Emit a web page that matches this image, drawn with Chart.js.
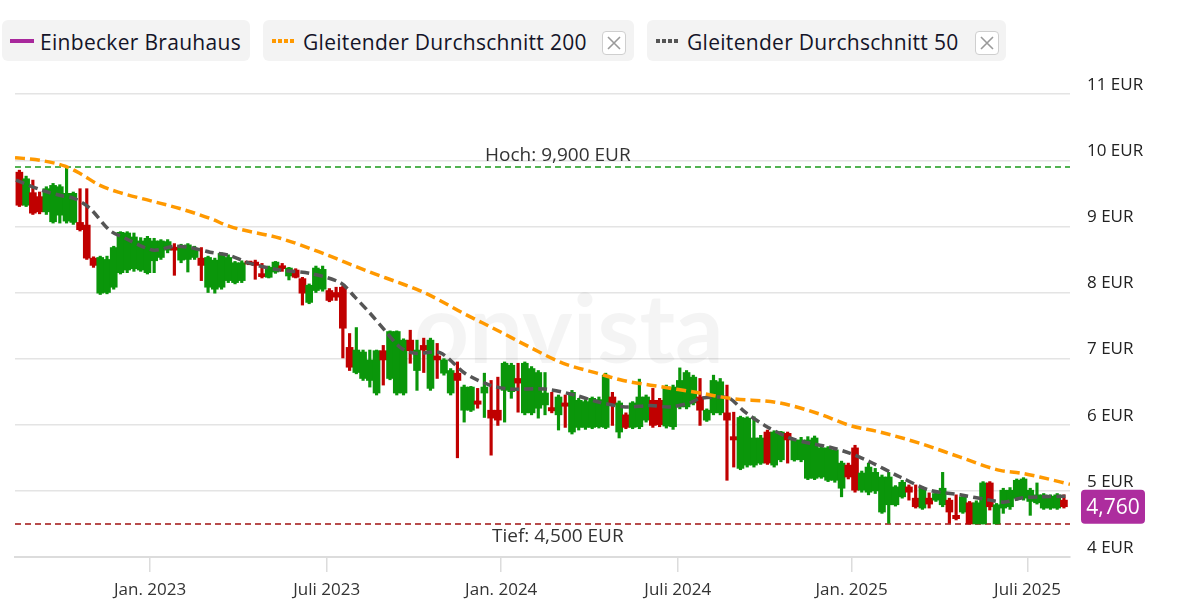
<!DOCTYPE html>
<html><head><meta charset="utf-8">
<script src="https://cdn.jsdelivr.net/npm/chart.js@4.4.1/dist/chart.umd.min.js"></script>
<style>
html,body{margin:0;padding:0;background:#fff;width:1179px;height:603px;overflow:hidden;font-family:"Open Sans",sans-serif;}
#wrap{position:relative;width:1179px;height:603px;}
canvas{position:absolute;left:0;top:0;}
.lg{position:absolute;top:20px;height:41px;padding-top:3px;background:#f3f3f3;border-radius:6px;display:flex;align-items:center;font-size:21px;letter-spacing:0.3px;color:#141428;box-sizing:border-box;white-space:nowrap;}
.mk{display:inline-block;width:24px;height:4px;margin-right:6px;margin-top:-3px;}
.x{position:absolute;top:11px;width:24px;height:24px;border:1px solid #cfcfcf;border-radius:4px;background:#fff;box-sizing:border-box;}
.x svg{position:absolute;left:4px;top:4px;}
</style></head>
<body><div id="wrap">
<canvas id="c" width="1179" height="603"></canvas>
<div class="lg" style="left:2px;width:248px;padding-left:8px;"><span class="mk" style="background:#a8289c"></span><span id="n0"></span></div>
<div class="lg" style="left:263px;width:371px;padding-left:9px;"><span class="mk" style="background:repeating-linear-gradient(90deg,#ff9900 0 4px,transparent 4px 6px);width:22px;margin-right:9px"></span><span id="n1"></span><span class="x" style="left:339px"><svg width="14" height="14"><path d="M1 1L13 13M13 1L1 13" stroke="#9a9a9a" stroke-width="1.6"/></svg></span></div>
<div class="lg" style="left:647px;width:359px;padding-left:9px;"><span class="mk" style="background:repeating-linear-gradient(90deg,#555 0 4px,transparent 4px 6px);width:22px;margin-right:9px"></span><span id="n2"></span><span class="x" style="left:328px"><svg width="14" height="14"><path d="M1 1L13 13M13 1L1 13" stroke="#9a9a9a" stroke-width="1.6"/></svg></span></div>
</div>
<script>
// ---- data ----
const seriesNames = ["Einbecker Brauhaus", "Gleitender Durchschnitt 200", "Gleitender Durchschnitt 50"];
const xTickPos = [19.4, 45.6, 71.5, 97.7, 123.5, 149.6];
const xTickLabels = ["Jan. 2023", "Juli 2023", "Jan. 2024", "Juli 2024", "Jan. 2025", "Juli 2025"];
const yTicks = [4, 5, 6, 7, 8, 9, 10, 11];
const open = [9.82,9.32,9.51,9.45,9.22,9.07,9.17,9.08,9.06,9.06,9.02,8.52,7.99,8.00,8.08,8.30,8.34,8.36,8.34,8.30,8.48,8.53,8.64,8.68,8.49,8.50,8.53,8.52,8.08,8.05,8.08,8.18,8.15,8.18,8.46,8.46,8.27,8.23,8.31,8.40,8.25,8.34,8.21,7.85,8.03,8.05,8.03,8.00,8.08,7.17,6.79,6.70,6.67,6.48,7.12,6.70,6.48,6.48,7.28,6.82,7.20,6.55,7.04,6.78,6.48,6.78,6.22,6.22,6.36,6.48,6.22,6.22,6.52,6.50,6.70,6.18,6.18,6.25,6.30,6.26,6.15,6.33,5.89,5.96,5.96,5.96,5.97,5.96,6.42,5.89,6.15,5.96,5.97,6.07,6.37,6.37,5.98,5.97,6.27,6.27,6.33,6.42,6.07,6.18,6.18,6.18,5.82,5.34,5.39,5.39,5.42,5.89,5.39,5.47,5.87,5.47,5.47,5.19,5.19,5.21,5.16,5.16,5.04,5.39,5.65,5.01,4.98,5.00,4.68,4.79,4.79,4.91,5.06,4.89,4.74,4.89,4.86,4.79,4.86,4.63,4.68,4.82,4.50,4.50,5.12,4.50,4.74,4.76,4.89,4.89,4.84,4.82,4.74,4.74,4.74,4.86];
const high = [9.85,9.76,9.70,9.52,9.60,9.65,9.63,9.89,9.52,9.57,9.57,8.54,8.55,8.55,8.70,8.92,8.92,8.90,8.83,8.85,8.82,8.80,8.80,8.74,8.73,8.74,8.70,8.68,8.55,8.52,8.60,8.57,8.47,8.48,8.47,8.49,8.44,8.40,8.47,8.44,8.38,8.36,8.23,8.13,8.40,8.40,8.06,8.08,8.10,7.38,7.47,7.13,7.13,7.13,7.20,7.42,7.42,7.30,7.43,7.28,7.31,7.31,7.23,7.00,6.85,6.95,6.60,6.58,6.55,6.78,6.67,6.72,6.95,6.93,6.93,6.95,6.88,6.82,6.79,6.49,6.45,6.45,6.52,6.40,6.38,6.42,6.42,6.78,6.49,6.36,6.18,6.35,6.69,6.45,6.55,6.40,6.60,6.60,6.86,6.82,6.75,6.70,6.24,6.75,6.70,6.60,6.19,6.13,6.12,6.12,5.84,5.92,5.91,5.90,5.89,5.79,5.81,5.82,5.83,5.68,5.67,5.65,5.45,5.42,5.69,5.30,5.42,5.34,5.24,5.28,5.08,5.16,5.09,5.09,5.06,4.97,5.00,5.28,4.89,4.94,4.93,4.84,4.85,5.14,5.14,4.81,5.04,5.05,5.18,5.20,5.04,5.12,4.96,4.94,4.96,4.94];
const low = [9.30,9.30,9.18,9.19,9.18,9.05,9.05,9.05,9.03,8.93,8.50,8.38,7.97,7.98,8.05,8.28,8.30,8.32,8.32,8.28,8.30,8.50,8.60,8.26,8.45,8.31,8.50,8.18,8.00,7.99,8.05,8.15,8.13,8.15,8.42,8.20,8.22,8.22,8.29,8.32,8.19,8.22,7.81,7.83,8.00,8.02,7.86,7.88,7.01,6.82,6.77,6.67,6.57,6.45,6.60,6.68,6.45,6.45,6.93,6.52,6.79,6.52,6.70,6.75,6.45,5.50,6.04,6.20,6.25,6.11,5.54,5.99,6.04,6.40,6.19,6.15,6.15,6.10,6.15,6.18,5.92,5.96,5.86,5.92,5.93,5.94,5.95,5.94,5.99,5.80,5.94,5.94,5.94,6.04,5.96,5.97,5.95,5.93,6.24,6.24,6.30,5.99,6.05,6.15,6.15,5.16,5.36,5.32,5.36,5.36,5.40,5.40,5.36,5.44,5.42,5.45,5.44,5.17,5.17,5.19,5.14,5.13,4.91,5.18,4.98,4.98,4.94,4.96,4.66,4.51,4.77,4.89,4.86,4.74,4.72,4.74,4.84,4.76,4.51,4.56,4.66,4.50,4.50,4.50,4.71,4.50,4.66,4.72,4.86,4.86,4.63,4.80,4.72,4.72,4.72,4.74];
const close = [9.32,9.72,9.20,9.22,9.57,9.62,9.60,9.50,9.50,8.95,8.52,8.41,8.53,8.50,8.68,8.91,8.90,8.84,8.78,8.82,8.78,8.78,8.77,8.64,8.71,8.72,8.66,8.41,8.53,8.49,8.59,8.53,8.45,8.45,8.43,8.41,8.24,8.38,8.46,8.36,8.37,8.23,7.99,8.11,8.37,8.35,7.88,7.93,7.46,6.87,7.13,7.10,6.98,7.12,6.98,7.41,7.41,7.28,7.12,7.13,7.13,7.28,6.98,6.98,6.82,6.67,6.57,6.57,6.31,6.57,6.10,6.07,6.93,6.90,6.63,6.93,6.85,6.79,6.48,6.21,6.42,6.28,6.49,6.37,6.35,6.40,6.38,6.75,6.30,6.33,5.96,6.33,6.42,6.42,5.99,6.00,6.57,6.57,6.67,6.79,6.72,6.22,6.22,6.67,6.65,6.07,5.77,6.11,6.10,5.80,5.80,5.42,5.89,5.89,5.77,5.77,5.77,5.77,5.80,5.65,5.65,5.62,5.42,5.21,5.01,5.27,5.36,5.28,5.21,5.21,5.06,5.13,4.98,4.76,5.04,4.80,4.96,5.04,4.68,4.58,4.91,4.50,4.82,5.12,4.76,4.79,5.01,5.01,5.16,5.18,5.01,4.94,4.94,4.92,4.94,4.76];
const ma200X = [-0.65,3.06,6.77,9.0,11.96,14.93,19.38,23.8,28.3,31.2,38.7,44.6,48.3,52.0,56.0,59.4,62.4,65.8,70.9,75.8,80.7,85.7,89.6,95.5,101,105.4,112.8,118.8,123.2,127.7,133.6,139.6,145.5,148.5,151.4,155.9];
const ma200Y = [10.04,10.0,9.91,9.80,9.62,9.51,9.39,9.27,9.12,9.00,8.82,8.61,8.46,8.31,8.16,8.03,7.88,7.69,7.43,7.17,6.93,6.78,6.67,6.57,6.48,6.40,6.33,6.16,5.99,5.89,5.72,5.51,5.31,5.27,5.21,5.10];
const ma50X = [-0.5,3.5,6.0,8.2,10.5,13.4,15.7,18.6,20.1,23.1,25.3,28.3,31.2,34.2,38.7,43.1,47.6,49.8,52.0,54.2,56.5,58.7,62.4,66.1,69.8,72.8,78.0,82.4,86.1,89.9,93.6,96.5,99.5,101,104,105.4,107.7,110.6,114.3,117.3,120.3,123.2,126.2,130.7,135.1,139.6,144.0,146.2,148.5,151.4,155.6];
const ma50Y = [9.70,9.54,9.47,9.42,9.27,8.94,8.82,8.68,8.64,8.70,8.68,8.61,8.56,8.44,8.34,8.29,8.15,7.93,7.69,7.43,7.17,7.08,7.09,6.78,6.60,6.54,6.54,6.45,6.34,6.27,6.29,6.27,6.33,6.40,6.42,6.40,6.19,5.99,5.80,5.72,5.66,5.57,5.44,5.21,5.01,4.94,4.86,4.83,4.89,4.91,4.92];
const hoch = 9.9, tief = 4.5, last = 4.76;
const hochLabel = "Hoch: 9,900 EUR", tiefLabel = "Tief: 4,500 EUR", lastLabel = "4,760";
const watermark = "onvista";
const xMin = -0.65, xMax = 155.9;

document.getElementById('n0').textContent = seriesNames[0];
document.getElementById('n1').textContent = seriesNames[1];
document.getElementById('n2').textContent = seriesNames[2];

const FONT = '"Open Sans", sans-serif';
const GREEN = '#0a960a', RED = '#c00000';
const colors = open.map((o, i) => close[i] >= o ? GREEN : RED);
const bodies = open.map((o, i) => ({x: i, y: [o, close[i]]}));
const wicks = open.map((o, i) => ({x: i, y: [low[i], high[i]]}));

const overlay = {
  id: 'overlay',
  beforeDatasetsDraw(chart) {
    const {ctx, chartArea: a} = chart;
    ctx.save();
    ctx.font = 'bold 96px Lato, sans-serif';
    ctx.fillStyle = 'rgba(0,0,0,0.045)';
    ctx.textAlign = 'center'; ctx.textBaseline = 'middle';
    ctx.fillText(watermark, a.left + (a.right - a.left) * 0.525, 332);
    ctx.restore();
  },
  afterDraw(chart) {
    const {ctx, scales: {x, y}} = chart;
    const cx = x.getPixelForValue(79.9);
    ctx.save();
    ctx.font = '19px ' + FONT;
    ctx.fillStyle = '#333';
    ctx.textAlign = 'center'; ctx.textBaseline = 'middle';
    ctx.fillText(hochLabel, cx, y.getPixelForValue(hoch) - 11);
    ctx.fillText(tiefLabel, cx, y.getPixelForValue(tief) + 13);
    const py = y.getPixelForValue(last);
    const bx = 1081, bw = 64, bh = 34, by = py - bh / 2;
    ctx.fillStyle = '#ad2d9e';
    ctx.beginPath(); ctx.roundRect(bx, by, bw, bh, 4); ctx.fill();
    ctx.fillStyle = '#fff';
    ctx.font = '21px ' + FONT;
    ctx.fillText(lastLabel, bx + bw / 2, py + 1);
    ctx.restore();
  }
};

new Chart(document.getElementById('c'), {
  type: 'bar',
  data: {
    datasets: [
      {type: 'line', label: 'hoch', data: [{x: xMin, y: hoch}, {x: xMax, y: hoch}], borderColor: '#1a9a1a', borderWidth: 1.5, borderDash: [6, 4], pointRadius: 0, order: 5},
      {type: 'line', label: 'tief', data: [{x: xMin, y: tief}, {x: xMax, y: tief}], borderColor: '#a01010', borderWidth: 1.5, borderDash: [6, 4], pointRadius: 0, order: 5},
      {label: 'wick', data: wicks, backgroundColor: colors, barThickness: 2.5, grouped: false, order: 4},
      {label: seriesNames[0], data: bodies, backgroundColor: colors, barThickness: 7, grouped: false, minBarLength: 3, order: 3},
      {type: 'line', label: seriesNames[1], data: ma200X.map((v, i) => ({x: v, y: ma200Y[i]})), borderColor: '#ff9900', borderWidth: 3.5, borderDash: [10, 5], pointRadius: 0, cubicInterpolationMode: 'monotone', order: 1},
      {type: 'line', label: seriesNames[2], data: ma50X.map((v, i) => ({x: v, y: ma50Y[i]})), borderColor: '#555555', borderWidth: 3.5, borderDash: [9, 5], pointRadius: 0, tension: 0.3, order: 2}
    ]
  },
  options: {
    responsive: false, animation: false,
    layout: {padding: {left: 15, top: 71, right: 0, bottom: 0}},
    plugins: {legend: {display: false}, tooltip: {enabled: false}},
    scales: {
      x: {
        type: 'linear', min: xMin, max: xMax, offset: false,
        afterBuildTicks: ax => { ax.ticks = xTickPos.map(v => ({value: v})); },
        afterFit: ax => { ax.height = 46; },
        ticks: {callback: (v, i) => xTickLabels[i], color: '#333', font: {family: FONT, size: 17}, padding: 8, maxRotation: 0, autoSkip: false},
        grid: {drawOnChartArea: false, drawTicks: true, tickLength: 15, color: '#dcdcdc', lineWidth: 1.5, offset: false},
        border: {display: true, color: '#dcdcdc', width: 2}
      },
      y: {
        position: 'right', min: 4, max: 11.35,
        afterBuildTicks: ax => { ax.ticks = yTicks.map(v => ({value: v})); },
        afterFit: ax => { ax.width = 109; },
        ticks: {callback: v => v + ' EUR', color: '#222', font: {family: FONT, size: 17}, padding: 17, labelOffset: -9},
        grid: {color: '#e4e4e4', lineWidth: 1.5, drawTicks: false},
        border: {display: false}
      }
    }
  },
  plugins: [overlay]
});
</script>
</body></html>
